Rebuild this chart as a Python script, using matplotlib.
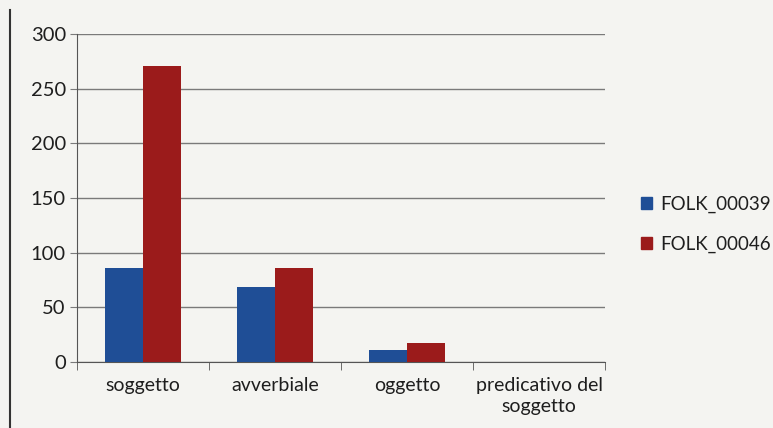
import matplotlib
matplotlib.use("Agg")
import matplotlib.pyplot as plt
import numpy as np
from matplotlib.patches import Patch
from matplotlib.lines import Line2D

categories = ["soggetto", "avverbiale", "oggetto", "predicativo del\nsoggetto"]
series_names = ["FOLK_00039", "FOLK_00046"]
folk_00039 = [86, 69, 11, 0]
folk_00046 = [271, 86, 17, 0]
yticks = [0, 50, 100, 150, 200, 250, 300]

colors = ["#1f4e96", "#9b1b1b"]
bg = "#f4f4f1"
txt = "#1e1e1e"
plt.rcParams['font.family'] = ['Lato', 'DejaVu Sans']

fig = plt.figure(figsize=(7.73, 4.28), dpi=100, facecolor=bg)
ax = fig.add_axes([77/773, 1-362/428, 528/773, 328/428], facecolor=bg)

x = np.arange(len(categories))
w = 0.29
ax.bar(x - w/2, folk_00039, w, color=colors[0], zorder=3)
ax.bar(x + w/2, folk_00046, w, color=colors[1], zorder=3)

ax.set_xlim(-0.5, len(categories) - 0.5)
ax.set_ylim(0, 300)
ax.set_yticks(yticks)
ax.set_yticklabels([str(v) for v in yticks], fontsize=14.5, color=txt)
ax.yaxis.grid(True, color="#7a7a7a", linewidth=1.0, zorder=0)
ax.set_axisbelow(True)

ax.set_xticks(x)
ax.set_xticklabels(categories, fontsize=14, linespacing=1.3, color=txt)
ax.tick_params(axis='x', length=0, pad=11)
ax.set_xticks(np.arange(-0.5, len(categories)), minor=True)
ax.tick_params(axis='x', which='minor', length=6, color="#555555")
ax.tick_params(axis='y', length=5, color="#7a7a7a", pad=3)

for s in ["top", "right"]:
    ax.spines[s].set_visible(False)
ax.spines["left"].set_color("#555555")
ax.spines["bottom"].set_color("#555555")

handles = [Patch(facecolor=c, edgecolor=c) for c in colors]
leg = fig.legend(handles, series_names, loc="center left", bbox_to_anchor=(641/773, 1-224/428),
                 frameon=False, fontsize=13.5, handlelength=0.6, handleheight=0.6,
                 handletextpad=0.4, labelspacing=1.2, borderpad=0, borderaxespad=0)
for t in leg.get_texts():
    t.set_color(txt)

fig.add_artist(Line2D([10/773, 10/773], [0, 1-10/428], color="#333333", linewidth=1.5))

fig.savefig("out.png", dpi=100, facecolor=bg)
